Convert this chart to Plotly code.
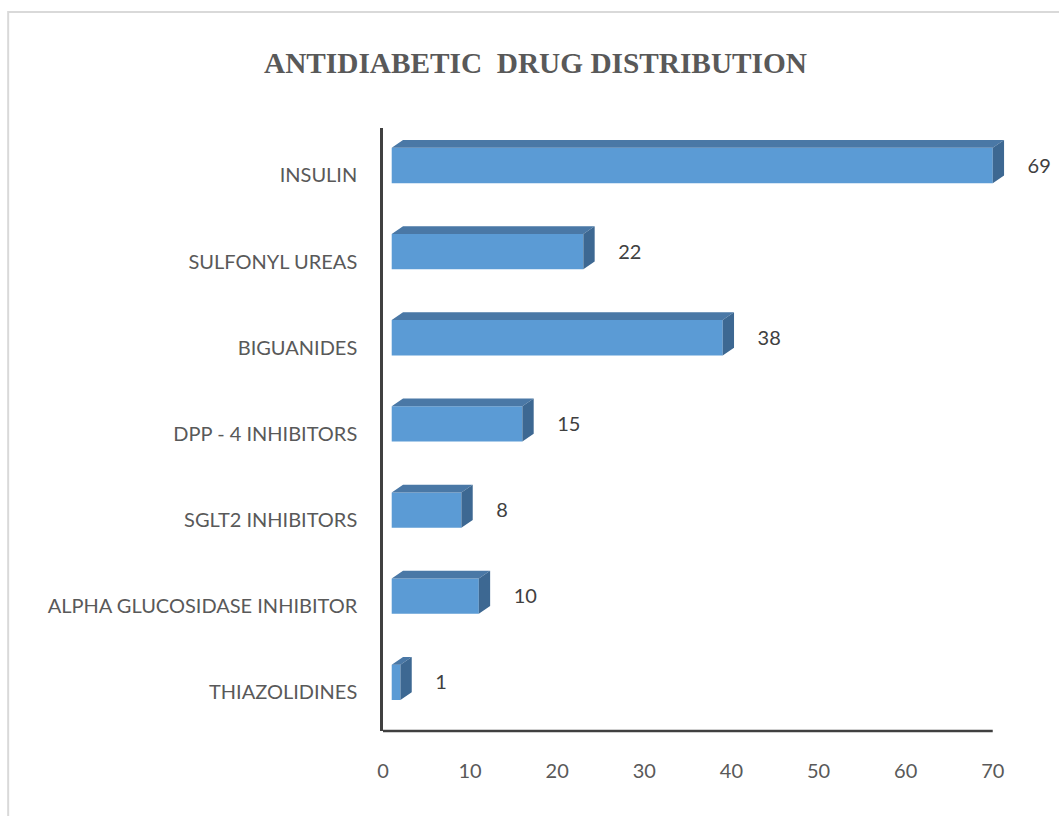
import plotly.graph_objects as go

# ---- data ----
categories = ["INSULIN", "SULFONYL UREAS", "BIGUANIDES", "DPP - 4 INHIBITORS",
              "SGLT2 INHIBITORS", "ALPHA GLUCOSIDASE INHIBITOR", "THIAZOLIDINES"]
values = [69, 22, 38, 15, 8, 10, 1]
x_ticks = [0, 10, 20, 30, 40, 50, 60, 70]
title_text = "ANTIDIABETIC\u00a0\u00a0DRUG DISTRIBUTION"

# ---- 3D bar geometry (data units) ----
FRONT_X0 = 1.0      # front face starts here (pseudo-3D offset)
DX = 1.3            # depth in x
DY = 0.09           # depth in category units (upwards)
TOP_OFF = -0.27     # front face top relative to slot centre
BOT_OFF = 0.14      # front face bottom relative to slot centre

FRONT = "#5B9BD5"
TOP = "#4A78A6"
SIDE = "#3D6892"

X_MAX_AXIS = 70
X_MAX_RANGE = 76    # extra room so the 3D faces of the longest bar are not clipped
PX_PER_UNIT = 610 / 70
PLOT_W = X_MAX_RANGE * PX_PER_UNIT
L_MARGIN = 383
R_MARGIN = 1059 - L_MARGIN - PLOT_W

idx = list(range(len(categories)))

fig = go.Figure()

# front faces
fig.add_trace(go.Bar(
    orientation="h",
    y=[i + (TOP_OFF + BOT_OFF) / 2 for i in idx],
    x=values,
    base=FRONT_X0,
    width=BOT_OFF - TOP_OFF,
    marker=dict(color=FRONT, line=dict(width=0)),
    hoverinfo="skip",
    showlegend=False,
))

# top faces and side faces
tx, ty, sx, sy = [], [], [], []
for i, v in zip(idx, values):
    x0 = FRONT_X0
    x1 = FRONT_X0 + v
    yt = i + TOP_OFF
    yb = i + BOT_OFF
    tx += [x0, x0 + DX, x1 + DX, x1, x0, None]
    ty += [yt, yt - DY, yt - DY, yt, yt, None]
    sx += [x1, x1 + DX, x1 + DX, x1, x1, None]
    sy += [yt, yt - DY, yb - DY, yb, yt, None]

fig.add_trace(go.Scatter(x=tx, y=ty, fill="toself", fillcolor=TOP, mode="lines",
                         line=dict(width=0, color=TOP), hoverinfo="skip", showlegend=False))
fig.add_trace(go.Scatter(x=sx, y=sy, fill="toself", fillcolor=SIDE, mode="lines",
                         line=dict(width=0, color=SIDE), hoverinfo="skip", showlegend=False))

# data labels
fig.add_trace(go.Scatter(
    x=[FRONT_X0 + v + DX + 2.7 for v in values],
    y=[i - 0.04 for i in idx],
    mode="text",
    text=[str(v) for v in values],
    textposition="middle right",
    textfont=dict(family="Lato, Open Sans, sans-serif", size=20, color="#404040"),
    hoverinfo="skip",
    showlegend=False,
    cliponaxis=False,
))

fig.update_layout(
    width=1059, height=816,
    margin=dict(l=L_MARGIN, r=R_MARGIN, t=128, b=85),
    paper_bgcolor="white", plot_bgcolor="white",
    showlegend=False,
    annotations=[dict(
        text=title_text, xref="paper", yref="paper",
        x=(536 - L_MARGIN) / PLOT_W, y=(731 - 63) / 603, xanchor="center", yanchor="middle",
        showarrow=False,
        font=dict(family="Liberation Serif, Times New Roman, serif", size=29.3, color="#595959", weight="bold"),
    )],
    shapes=[
        dict(
            type="rect", xref="paper", yref="paper",
            x0=(8 - L_MARGIN) / PLOT_W, x1=(1070 - L_MARGIN) / PLOT_W,
            y0=(731 - 830) / 603, y1=(731 - 12) / 603,
            line=dict(color="#D9D9D9", width=2), fillcolor="rgba(0,0,0,0)", layer="below",
        ),
        # bottom axis line, only up to 70
        dict(
            type="line", xref="x", yref="paper",
            x0=0, x1=X_MAX_AXIS, y0=0, y1=0,
            line=dict(color="#404040", width=2.5), layer="above",
        ),
    ],
)

fig.update_xaxes(
    range=[0, X_MAX_RANGE], tickvals=x_ticks, ticktext=[str(t) for t in x_ticks],
    showgrid=False, zeroline=False, showline=False,
    ticks="", ticklabelstandoff=26,
    tickfont=dict(family="Lato, Open Sans, sans-serif", size=20, color="#595959"),
)
fig.update_yaxes(
    range=[6.5, -0.5], tickvals=[i + 0.05 for i in idx], ticktext=categories,
    showgrid=False, zeroline=False,
    showline=True, linecolor="#404040", linewidth=2.5,
    ticks="", ticklabelstandoff=19,
    tickfont=dict(family="Lato, Open Sans, sans-serif", size=20, color="#595959"),
)

fig.write_html("out.html")
